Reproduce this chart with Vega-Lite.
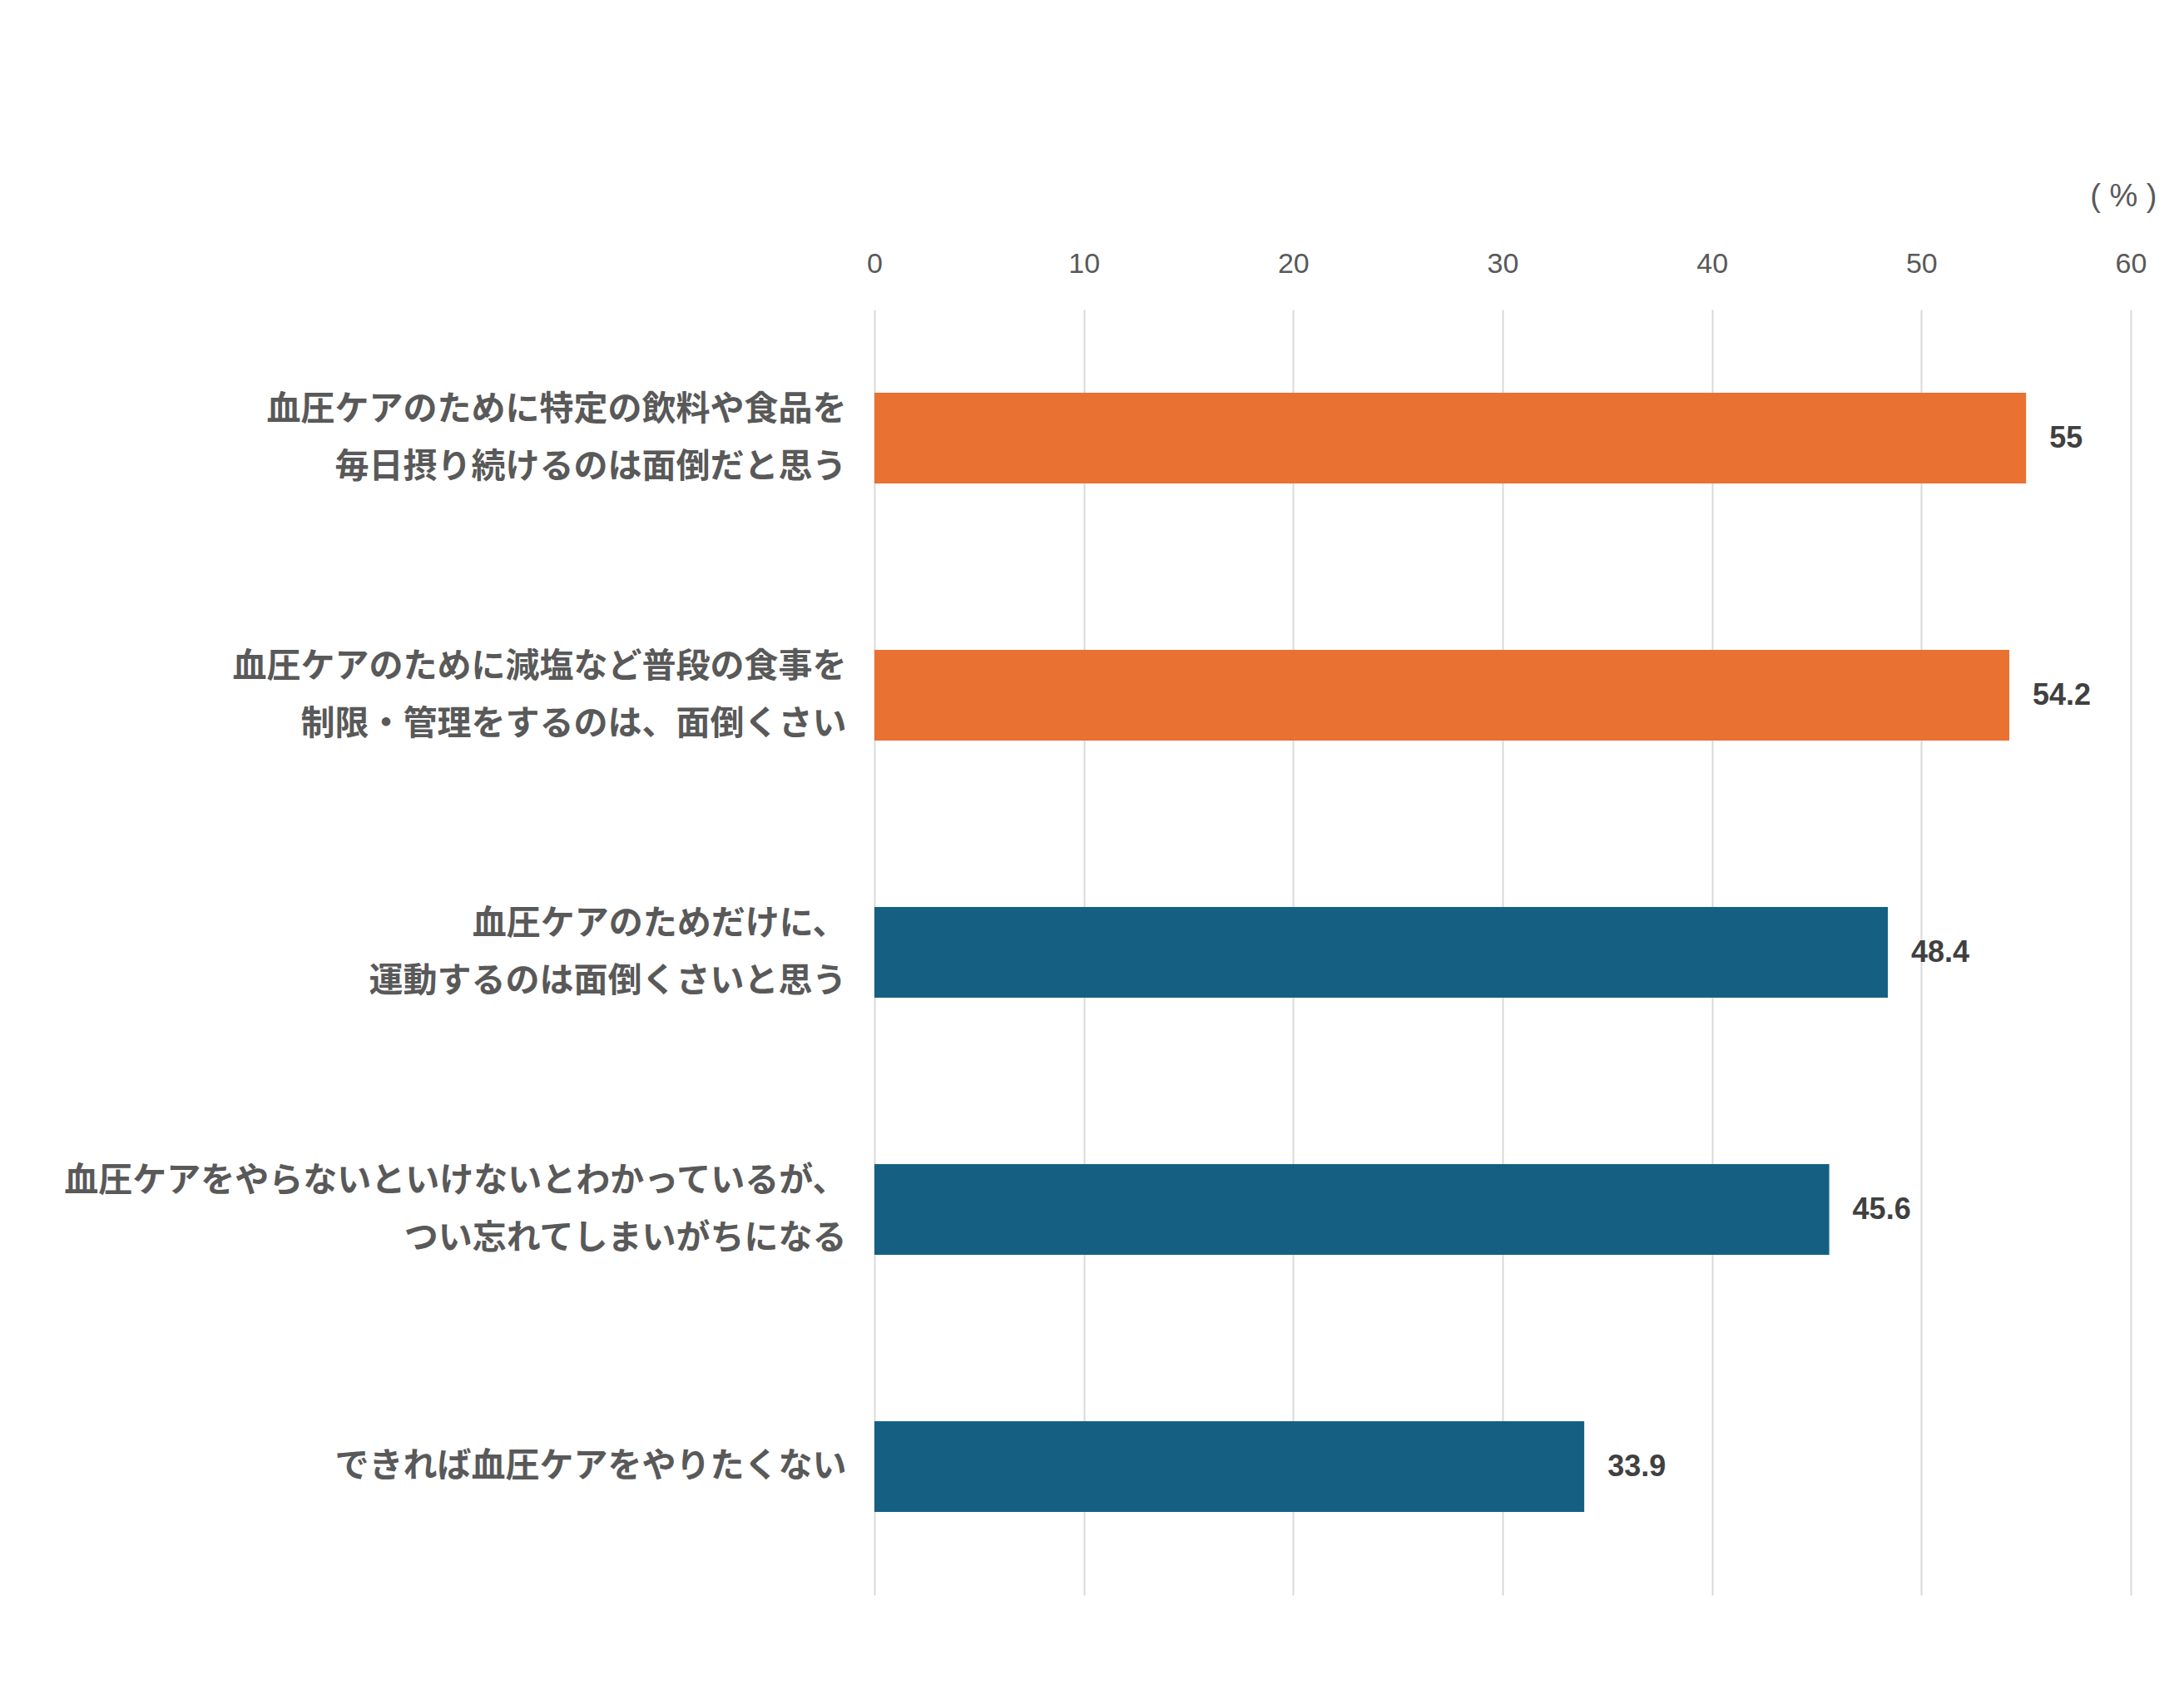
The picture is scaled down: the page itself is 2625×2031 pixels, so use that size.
{
  "$schema": "https://vega.github.io/schema/vega-lite/v6.json",
  "autosize": {"type": "none"},
  "padding": {"left": 1051, "top": 372, "right": 64, "bottom": 114},
  "width": 1510,
  "height": 1545,
  "background": "#ffffff",
  "config": {
    "view": {"stroke": null},
    "axis": {"labelFont": "Noto Sans CJK JP", "titleFont": "Noto Sans CJK JP"},
    "text": {"font": "Liberation Sans"}
  },
  "data": {
    "values": [
      {"item": "血圧ケアのために特定の飲料や食品を\n毎日摂り続けるのは面倒だと思う", "pct": 55, "group": "食事"},
      {"item": "血圧ケアのために減塩など普段の食事を\n制限・管理をするのは、面倒くさい", "pct": 54.2, "group": "食事"},
      {"item": "血圧ケアのためだけに、\n運動するのは面倒くさいと思う", "pct": 48.4, "group": "その他"},
      {"item": "血圧ケアをやらないといけないとわかっているが、\nつい忘れてしまいがちになる ", "pct": 45.6, "group": "その他"},
      {"item": "できれば血圧ケアをやりたくない", "pct": 33.9, "group": "その他"}
    ]
  },
  "encoding": {
    "y": {
      "field": "item",
      "type": "nominal",
      "sort": null,
      "title": null,
      "scale": {"paddingInner": 0.647, "paddingOuter": 0.3235},
      "axis": {
        "domain": false,
        "ticks": false,
        "labelPadding": 34,
        "labelFontSize": 41,
        "labelFontWeight": "bold",
        "labelColor": "#595959",
        "labelLineHeight": 69,
        "labelLimit": 2000,
        "labelOffset": {"condition": {"test": "indexof(datum.value, '\\n') >= 0", "value": -34}, "value": 0},
        "labelExpr": "split(datum.label, '\\n')"
      }
    },
    "x": {
      "field": "pct",
      "type": "quantitative",
      "scale": {"domain": [0, 60]},
      "title": "( % )",
      "axis": {
        "orient": "top",
        "values": [0, 10, 20, 30, 40, 50, 60],
        "domain": false,
        "ticks": false,
        "grid": true,
        "gridColor": "#d9d9d9",
        "gridWidth": 2,
        "labelFlush": false,
        "labelFont": "Liberation Sans",
        "labelFontSize": 34,
        "labelColor": "#595959",
        "labelPadding": 38,
        "titleFont": "Liberation Sans",
        "titleFontSize": 38,
        "titleFontWeight": "normal",
        "titleColor": "#595959",
        "titleAnchor": "end",
        "titleAlign": "right",
        "titleBaseline": "middle",
        "titleX": 1541,
        "titleY": -136
      }
    }
  },
  "layer": [
    {
      "mark": {"type": "bar"},
      "encoding": {
        "color": {
          "field": "group",
          "type": "nominal",
          "scale": {"domain": ["食事", "その他"], "range": ["#e97132", "#156082"]},
          "legend": null
        }
      }
    },
    {
      "mark": {
        "type": "text",
        "align": "left",
        "baseline": "middle",
        "dx": 28,
        "fontSize": 36,
        "fontWeight": "bold",
        "color": "#404040"
      },
      "encoding": {
        "text": {"field": "pct", "type": "quantitative"}
      }
    }
  ]
}
